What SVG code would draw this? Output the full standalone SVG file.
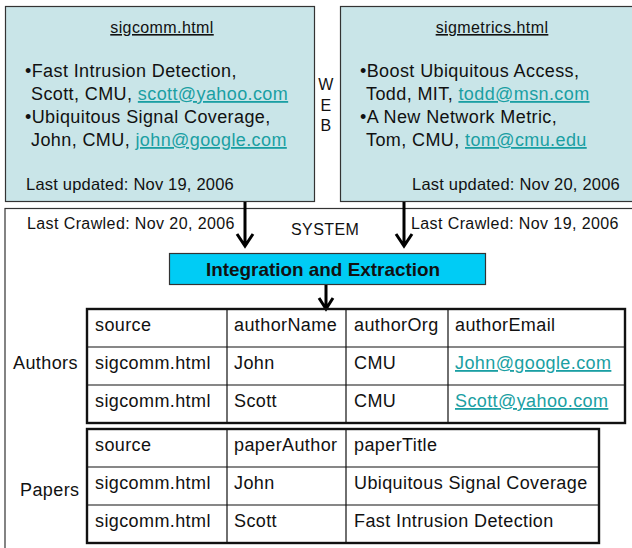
<svg xmlns="http://www.w3.org/2000/svg" width="632" height="548" viewBox="0 0 632 548">
  <style>
    text { font-family: "Liberation Sans", Arial, sans-serif; fill: #111; }
    .page { fill: #c9e5e8; stroke: #333; stroke-width: 1.2; }
    .t17 { font-size: 18px; letter-spacing: 0.4px; }
    .t16 { font-size: 16.5px; letter-spacing: 0.2px; }
    .title { font-size: 16px; letter-spacing: 0.4px; }
    .lbl { font-size: 16px; letter-spacing: 0.4px; }
    .cell { font-size: 18px; letter-spacing: 0.4px; }
    .link { fill: #1a9fa3; text-decoration: underline; }
    .grid { stroke: #111; stroke-width: 1.2; fill: none; }
    .frame { stroke: #111; stroke-width: 2.4; fill: none; }
    .arrow { stroke: #000; stroke-width: 3; fill: none; }
  </style>

  <!-- system boundary -->
  <rect x="5" y="208.5" width="640" height="400" fill="none" stroke="#333" stroke-width="1.2"/>

  <!-- web page: sigcomm.html -->
  <g id="page-sigcomm">
    <rect class="page" x="5.5" y="6.5" width="309" height="195"/>
    <text class="title" x="162" y="33" text-anchor="middle" text-decoration="underline">sigcomm.html</text>
    <text class="t17" x="25" y="77">•Fast Intrusion Detection,</text>
    <text class="t17" x="31" y="100">Scott, CMU, <tspan class="link">scott@yahoo.com</tspan></text>
    <text class="t17" x="25" y="123">•Ubiquitous Signal Coverage,</text>
    <text class="t17" x="31" y="146">John, CMU, <tspan class="link">john@google.com</tspan></text>
    <text class="t16" x="26" y="190">Last updated: Nov 19, 2006</text>
  </g>

  <!-- web page: sigmetrics.html -->
  <g id="page-sigmetrics">
    <rect class="page" x="340.5" y="6.5" width="300" height="195"/>
    <text class="title" x="492" y="33" text-anchor="middle" text-decoration="underline">sigmetrics.html</text>
    <text class="t17" x="360" y="77">•Boost Ubiquitous Access,</text>
    <text class="t17" x="366" y="100">Todd, MIT, <tspan class="link">todd@msn.com</tspan></text>
    <text class="t17" x="360" y="123">•A New Network Metric,</text>
    <text class="t17" x="366" y="146">Tom, CMU, <tspan class="link">tom@cmu.edu</tspan></text>
    <text class="t16" x="412" y="190">Last updated: Nov 20, 2006</text>
  </g>

  <!-- WEB label -->
  <g id="web-label" class="lbl">
    <text x="326" y="90" text-anchor="middle">W</text>
    <text x="326" y="111" text-anchor="middle">E</text>
    <text x="326" y="131" text-anchor="middle">B</text>
  </g>

  <!-- system labels -->
  <g id="system-labels" class="lbl">
    <text x="27" y="229">Last Crawled: Nov 20, 2006</text>
    <text x="291" y="235">SYSTEM</text>
    <text x="411" y="229">Last Crawled: Nov 19, 2006</text>
  </g>

  <!-- extraction step -->
  <g id="integration">
    <rect x="169.5" y="253.5" width="316" height="31" fill="#00ccf5" stroke="#333" stroke-width="1.2"/>
    <text x="206" y="276" font-size="18.5" font-weight="bold" textLength="234" lengthAdjust="spacingAndGlyphs">Integration and Extraction</text>
  </g>

  <!-- connectors -->
  <g id="connectors">
    <path class="arrow" d="M245 202 V246 M237 234 L245 246 L253 234"/>
    <path class="arrow" d="M404 202 V246 M396 234 L404 246 L412 234"/>
    <path class="arrow" d="M326 285 V309 M319 298 L326 309 L333 298"/>
  </g>

  <!-- Authors table -->
  <g id="authors">
    <text class="cell" x="13" y="369">Authors</text>
    <path class="grid" d="M87 347 H625 M87 385 H625 M227 309 V423 M346 309 V423 M448 309 V423"/>
    <rect class="frame" x="87" y="309" width="538" height="114"/>
    <text class="cell" x="95" y="331">source</text>
    <text class="cell" x="234" y="331">authorName</text>
    <text class="cell" x="354" y="331">authorOrg</text>
    <text class="cell" x="455" y="331">authorEmail</text>
    <text class="cell" x="95" y="369">sigcomm.html</text>
    <text class="cell" x="234" y="369">John</text>
    <text class="cell" x="354" y="369">CMU</text>
    <text class="cell link" x="455" y="369">John@google.com</text>
    <text class="cell" x="95" y="407">sigcomm.html</text>
    <text class="cell" x="234" y="407">Scott</text>
    <text class="cell" x="354" y="407">CMU</text>
    <text class="cell link" x="455" y="407">Scott@yahoo.com</text>
  </g>

  <!-- Papers table -->
  <g id="papers">
    <text class="cell" x="20" y="496">Papers</text>
    <path class="grid" d="M87 467 H599 M87 505 H599 M227 429 V543 M346 429 V543"/>
    <rect class="frame" x="87" y="429" width="512" height="114"/>
    <text class="cell" x="95" y="451">source</text>
    <text class="cell" x="234" y="451">paperAuthor</text>
    <text class="cell" x="354" y="451">paperTitle</text>
    <text class="cell" x="95" y="489">sigcomm.html</text>
    <text class="cell" x="234" y="489">John</text>
    <text class="cell" x="354" y="489">Ubiquitous Signal Coverage</text>
    <text class="cell" x="95" y="527">sigcomm.html</text>
    <text class="cell" x="234" y="527">Scott</text>
    <text class="cell" x="354" y="527">Fast Intrusion Detection</text>
  </g>
</svg>
